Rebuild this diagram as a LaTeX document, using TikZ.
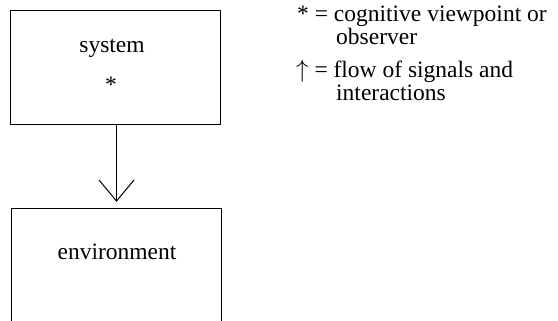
\documentclass[tikz,border=0pt]{standalone}
\usepackage{fontspec}
\setmainfont{Liberation Serif}
\usetikzlibrary{arrows.meta}

\begin{document}
\begin{tikzpicture}[x=1pt, y=-1pt]
      \tikzstyle{box}=[draw, line width=1pt, minimum width=210pt, minimum height=114pt, inner sep=0pt];
      \tikzstyle{txt}=[inner sep=0pt, font=\fontsize{23.5}{28}\selectfont];
      \tikzstyle{flow}=[line width=1pt, -{Straight Barb[length=21pt, width=35pt, line width=1pt]}];

      \useasboundingbox (0,0) rectangle (558,321);

      \node[box] (sys) at (115,68) {};
      \node[txt, anchor=base] (systxt) at (112,53) {system};
      \node[txt, anchor=base] (sysobs) at (111,93) {*};

      % environment box, open at the bottom
      \node[inner sep=0pt, minimum width=209pt, minimum height=112pt] (env) at (116.5,265) {};
      \draw[line width=1pt] (env.south west) -- (env.north west) -- (env.north east) -- (env.south east);
      \node[txt, anchor=base] (envtxt) at (117,259) {environment};

      \draw[flow, shorten >=7pt] (sys.south -| env.north) -- (env.north);

      % legend
      \node[txt, anchor=base west] (obs) at (297,22) {* = cognitive viewpoint or};
      \node[txt, anchor=base west] (obs2) at (336,45) {observer};
      \node[txt, anchor=base west] (sig) at (296,78) {$\uparrow$ = flow of signals and};
      \node[txt, anchor=base west] (sig2) at (336,101) {interactions};
    \end{tikzpicture}
\end{document}
